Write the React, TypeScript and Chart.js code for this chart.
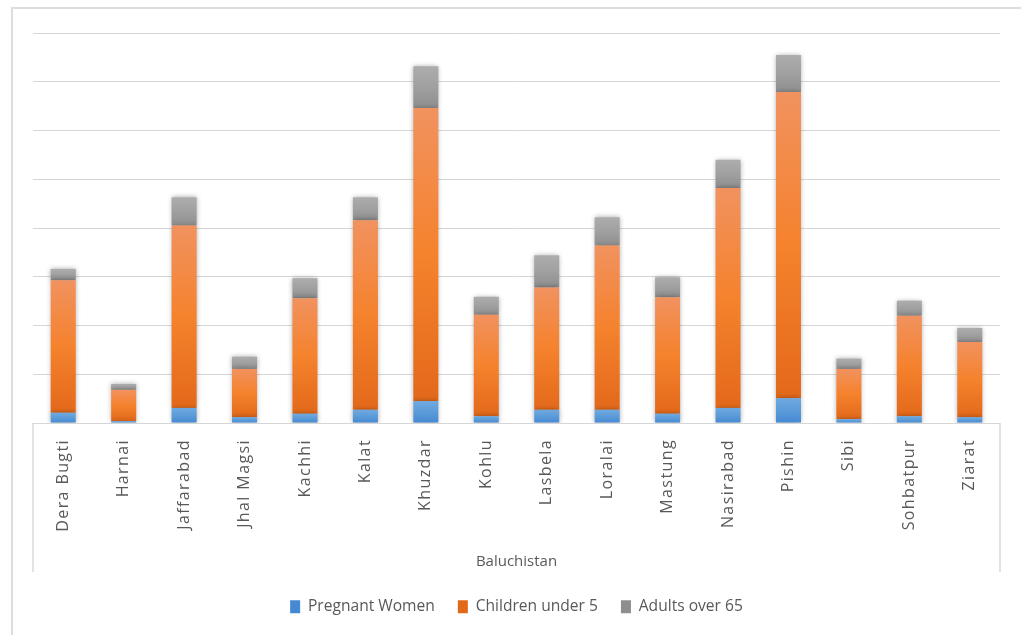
import React, { useEffect, useRef } from "react";
import { Chart, registerables, CategoryScale } from "chart.js";

Chart.register(...registerables);

class SpacedCategoryScale extends CategoryScale {
  static id = "spacedCategory";
  static defaults = (CategoryScale as any).defaults;
  drawLabels(chartArea: any) {
    const c: any = this.ctx;
    const prev = c.letterSpacing;
    c.letterSpacing = "1.4px";
    (CategoryScale.prototype as any).drawLabels.call(this, chartArea);
    c.letterSpacing = prev || "0px";
  }
}
Chart.register(SpacedCategoryScale as any);

const categories = [
  "Dera Bugti", "Harnai", "Jaffarabad", "Jhal Magsi", "Kachhi", "Kalat", "Khuzdar", "Kohlu",
  "Lasbela", "Loralai", "Mastung", "Nasirabad", "Pishin", "Sibi", "Sohbatpur", "Ziarat",
];
const pregnantWomen = [2.1, 0.4, 3.1, 1.2, 1.9, 2.7, 4.5, 1.4, 2.7, 2.7, 1.9, 3.1, 5.1, 0.8, 1.4, 1.2];
const childrenUnder5 = [27.2, 6.4, 37.4, 9.9, 23.7, 38.9, 60.1, 20.8, 25.1, 33.7, 23.9, 45.1, 62.8, 10.3, 20.6, 15.4];
const adultsOver65 = [2.3, 1.2, 5.8, 2.5, 4.1, 4.7, 8.6, 3.7, 6.6, 5.8, 4.1, 5.8, 7.6, 2.1, 3.1, 2.9];
const seriesNames = ["Pregnant Women", "Children under 5", "Adults over 65"];
const groupLabel = "Baluchistan";

const FONT = "'Open Sans', sans-serif";
const TEXT = "#595959";

function makeGrad(stops: string[], solid: string, dsIndex: number) {
  return (ctx: any) => {
    if (ctx.type !== "data") return solid;
    const chart = ctx.chart;
    const y = chart.scales && chart.scales.y;
    if (!y || !chart.chartArea) return solid;
    const i = ctx.dataIndex;
    let start = 0;
    for (let d = 0; d < dsIndex; d++) start += chart.data.datasets[d].data[i] as number;
    const end = start + (chart.data.datasets[dsIndex].data[i] as number);
    const y0 = y.getPixelForValue(end);
    const y1 = y.getPixelForValue(start);
    if (!isFinite(y0) || !isFinite(y1) || Math.abs(y1 - y0) < 0.5) return solid;
    const g = chart.ctx.createLinearGradient(0, y0, 0, y1);
    stops.forEach((c, k) => g.addColorStop(k / (stops.length - 1), c));
    return g;
  };
}

const framePlugin = {
  id: "frame",
  beforeDraw(chart: any) {
    const c = chart.ctx;
    const a = chart.chartArea;
    c.save();
    c.strokeStyle = "#dcdcdc";
    c.lineWidth = 2;
    c.beginPath();
    c.moveTo(12, 635);
    c.lineTo(12, 8);
    c.lineTo(1021, 8);
    c.stroke();
    c.lineWidth = 1.5;
    c.strokeStyle = "#d9d9d9";
    c.beginPath();
    c.moveTo(Math.round(a.left), a.bottom);
    c.lineTo(Math.round(a.left), 572);
    c.moveTo(Math.round(a.right), a.bottom);
    c.lineTo(Math.round(a.right), 572);
    c.stroke();
    c.restore();
  },
};

const shadowPlugin = {
  id: "barShadow",
  beforeDatasetsDraw(chart: any) {
    const c = chart.ctx;
    c.save();
    c.shadowColor = "rgba(0,0,0,0.35)";
    c.shadowBlur = 5;
  },
  afterDatasetsDraw(chart: any) {
    chart.ctx.restore();
  },
};

export default function App() {
  const ref = useRef<HTMLCanvasElement | null>(null);
  useEffect(() => {
    if (!ref.current) return;
    const chart = new Chart(ref.current, {
      type: "bar",
      data: {
        labels: categories,
        datasets: [
          {
            label: seriesNames[0],
            data: pregnantWomen,
            backgroundColor: makeGrad(["#70a9df", "#5b9bd9", "#4689d3"], "#5a9ad9", 0),
          },
          {
            label: seriesNames[1],
            data: childrenUnder5,
            backgroundColor: makeGrad(["#f1925f", "#f5822d", "#e3691a"], "#f07b2c", 1),
          },
          {
            label: seriesNames[2],
            data: adultsOver65,
            backgroundColor: makeGrad(["#adadad", "#a0a0a0", "#8e8e8e"], "#a0a0a0", 2),
          },
        ],
      },
      options: {
        animation: false,
        responsive: false,
        devicePixelRatio: 1,
        layout: { padding: { left: 33, right: 21, top: 33, bottom: 10.5 } },
        datasets: { bar: { barPercentage: 0.414, categoryPercentage: 1, borderWidth: 0 } },
        scales: {
          x: {
            type: "spacedCategory" as any,
            stacked: true,
            grid: { display: false, drawTicks: false },
            border: { display: false },
            ticks: {
              minRotation: 90,
              maxRotation: 90,
              autoSkip: false,
              padding: 16,
              color: TEXT,
              font: { family: FONT, size: 16 },
            },
            title: {
              display: true,
              text: groupLabel,
              color: TEXT,
              font: { family: FONT, size: 15 },
              padding: { top: 0, bottom: 5 },
            },
            afterFit(scale: any) {
              scale.height = 152.9;
            },
          },
          y: {
            stacked: true,
            min: 0,
            max: 80,
            ticks: { display: false, stepSize: 10 },
            grid: { color: "#d6d6d6", lineWidth: 1, drawTicks: false },
            border: { display: false },
          },
        },
        plugins: {
          legend: {
            position: "bottom",
            labels: {
              boxWidth: 10,
              boxHeight: 13,
              padding: 23,
              color: TEXT,
              font: { family: FONT, size: 15.6 },
            },
          },
          tooltip: { enabled: false },
        },
      },
      plugins: [framePlugin, shadowPlugin],
    });
    return () => chart.destroy();
  }, []);
  return (
    <div style={{ position: "absolute", left: 0, top: 0, width: 1021, height: 635, background: "#fff" }}>
      <canvas ref={ref} width={1021} height={635} style={{ width: 1021, height: 635, display: "block" }} />
    </div>
  );
}
